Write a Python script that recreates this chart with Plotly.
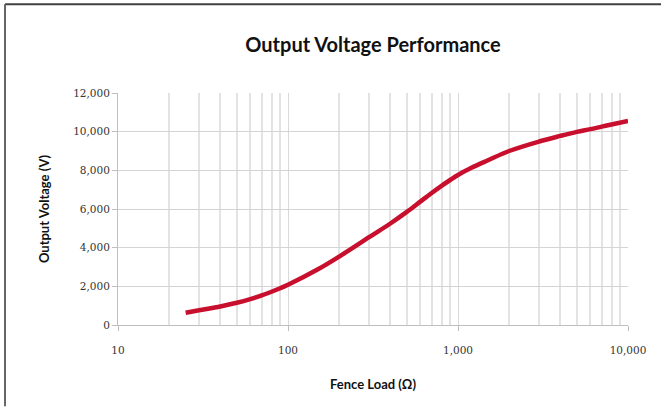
import plotly.graph_objects as go

# Data
fence_load_ohm = [25, 30, 40, 50, 60, 70, 80, 90, 100, 150, 200, 300, 400, 500,
                  600, 700, 800, 900, 1000, 1200, 1500, 2000, 3000, 4000, 5000, 6000,
                  7000, 8000, 10000]
output_voltage_v = [630, 760, 960, 1150, 1340, 1530, 1720, 1900, 2080, 2880, 3540,
                    4540, 5250, 5850, 6380, 6830, 7200, 7500, 7760, 8130, 8520, 9000,
                    9490, 9780, 9990, 10130, 10260, 10370, 10560]

x_major_ticks = [10, 100, 1000, 10000]
x_major_labels = ["10", "100", "1,000", "10,000"]
x_minor_ticks = [m * d for d in (10, 100, 1000) for m in range(2, 10)]
y_ticks = [0, 2000, 4000, 6000, 8000, 10000, 12000]
y_labels = ["0", "2,000", "4,000", "6,000", "8,000", "10,000", "12,000"]

W, H = 661, 407
L, R, T, B = 118, 33, 93, 81.5
pw, ph = W - L - R, H - T - B

fig = go.Figure()
fig.add_trace(go.Scatter(
    x=fence_load_ohm, y=output_voltage_v, mode="lines",
    line=dict(color="#c8102e", width=4.5, shape="spline", smoothing=1.0),
    hoverinfo="skip", showlegend=False,
))

tick_font = dict(family="DejaVu Serif", size=10.5, color="#333333")
label_font = dict(family="Lato", size=13, color="#111111", weight="bold")

fig.update_layout(
    width=W, height=H,
    margin=dict(l=L, r=R, t=T, b=B, pad=0),
    paper_bgcolor="white", plot_bgcolor="white",
    title=dict(text="Output Voltage Performance", x=0.5, xref="paper", xanchor="center",
               y=1 - 45 / H, yref="container", yanchor="middle",
               font=dict(family="Lato", size=20, color="#111111", weight="bold")),
    xaxis=dict(
        type="log", range=[1, 4],
        tickvals=x_major_ticks, ticktext=x_major_labels,
        showgrid=True, gridcolor="#d9d9d9", gridwidth=1,
        ticks="outside", ticklen=5, tickcolor="#bfbfbf",
        ticklabelstandoff=10,
        showline=True, linecolor="#bfbfbf", linewidth=1,
        tickfont=tick_font,
        minor=dict(tickvals=x_minor_ticks, showgrid=True, gridcolor="#e3e3e3",
                   gridwidth=1.5, ticks=""),
        title=dict(text="Fence Load (Ω)", font=label_font, standoff=25),
        zeroline=False,
    ),
    yaxis=dict(
        range=[0, 12000],
        tickvals=y_ticks, ticktext=y_labels,
        showgrid=True, gridcolor="#d4d4d4", gridwidth=1,
        ticks="outside", ticklen=5, tickcolor="#bfbfbf",
        showline=True, linecolor="#bfbfbf", linewidth=1,
        tickfont=tick_font,
        title=dict(text="Output Voltage (V)", font=label_font, standoff=20),
        zeroline=False,
    ),
)

# Frame lines (top and left) as in the reference
x_left = (5 - L) / pw
x_right = (W - L) / pw
y_top = 1 + (T - 4) / ph
y_bot = -(H - T - ph) / ph
fig.add_shape(type="line", xref="paper", yref="paper", x0=x_left, x1=x_right,
              y0=y_top, y1=y_top, line=dict(color="#404040", width=2))
fig.add_shape(type="line", xref="paper", yref="paper", x0=x_left, x1=x_left,
              y0=y_top, y1=y_bot, line=dict(color="#666666", width=2))

fig.write_html("out.html", config={"displayModeBar": False},
               post_script="document.body.style.margin='0';")
